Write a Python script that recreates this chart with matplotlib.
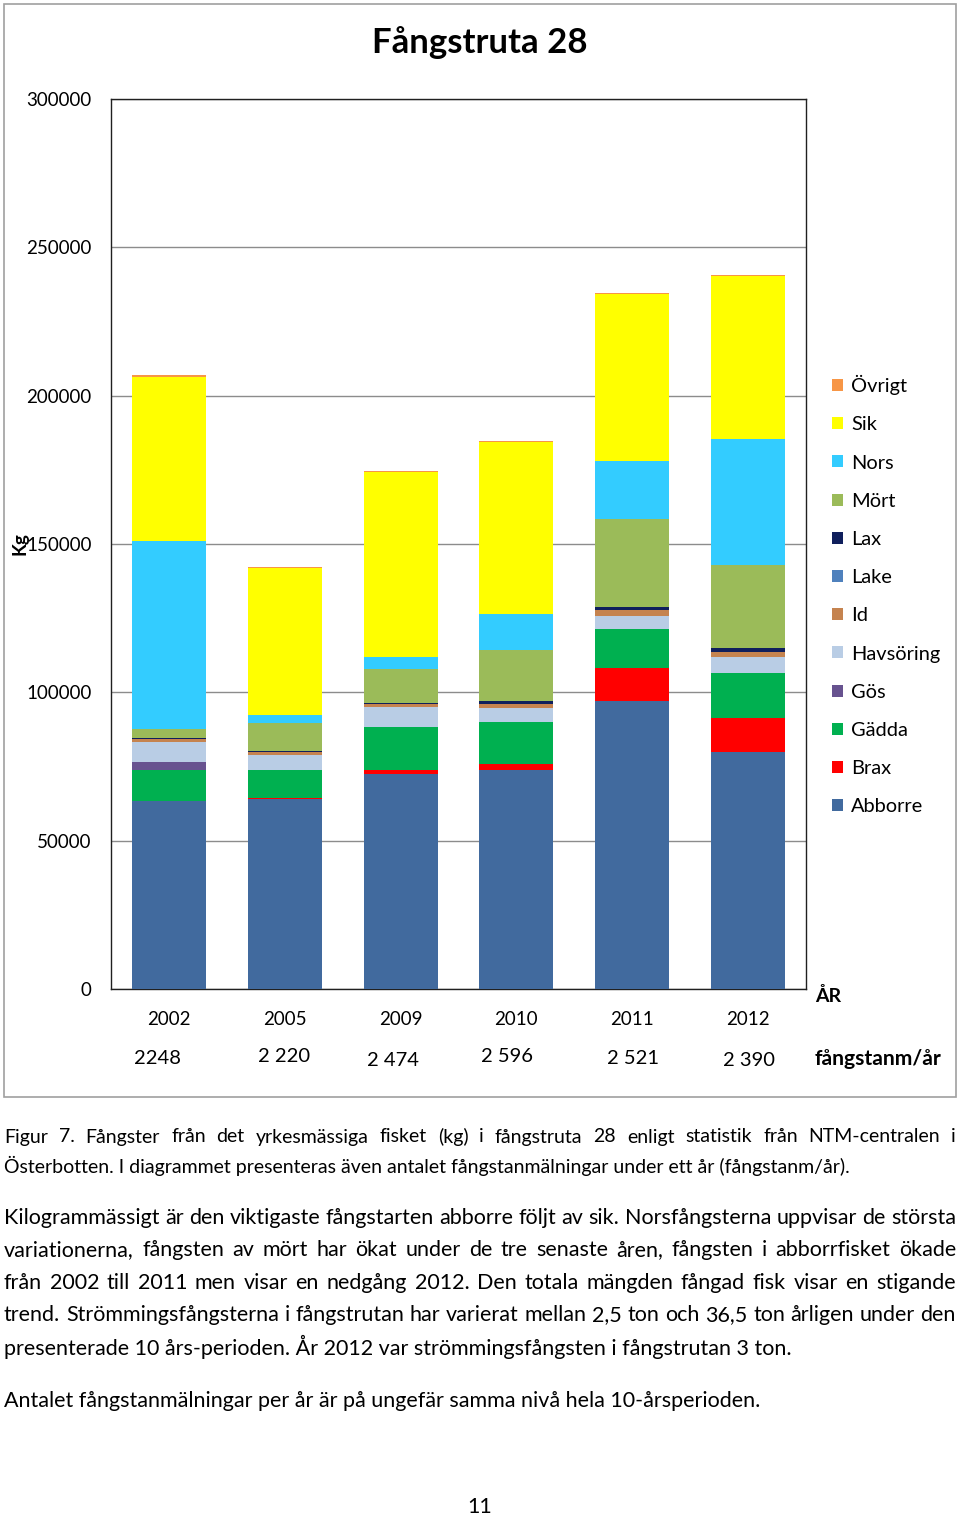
import numpy as np
import matplotlib
matplotlib.use('Agg')
import matplotlib.pyplot as plt
from matplotlib.patches import Rectangle, Patch
from matplotlib.transforms import blended_transform_factory

plt.rcParams['font.family'] = ['Lato', 'DejaVu Sans']

# data (kg)
years = ['2002', '2005', '2009', '2010', '2011', '2012']
reports = ['2248', '2 220', '2 474', '2 596', '2 521', '2 390']

abborre = [63400, 64000, 72500, 73800, 97100, 80000]
brax = [0, 400, 1400, 2000, 11000, 11200]
gadda = [10400, 9400, 14400, 14100, 13400, 15200]
gos = [2700, 0, 0, 0, 0, 0]
havsoring = [6700, 5000, 6700, 4700, 4300, 5500]
id_ = [1000, 1000, 1100, 1500, 1800, 1600]
lake = [0, 0, 0, 0, 0, 0]
lax = [500, 500, 400, 1000, 1000, 1300]
mort = [2800, 9400, 11300, 17200, 29900, 28100]
nors = [63600, 2500, 4000, 12000, 19600, 42600]
sik = [55300, 49600, 62400, 58000, 56300, 54800]
ovrigt = [400, 300, 300, 300, 300, 300]

series = [
    ('Abborre', abborre, '#416a9e'),
    ('Brax', brax, '#ff0000'),
    ('Gädda', gadda, '#00b050'),
    ('Gös', gos, '#67528f'),
    ('Havsöring', havsoring, '#b9cde5'),
    ('Id', id_, '#c5834f'),
    ('Lake', lake, '#4f81bd'),
    ('Lax', lax, '#0f1f5c'),
    ('Mört', mort, '#9bbb59'),
    ('Nors', nors, '#33ccff'),
    ('Sik', sik, '#ffff00'),
    ('Övrigt', ovrigt, '#f79646'),
]

W, H = 960, 1517
fig = plt.figure(figsize=(W / 100, H / 100), dpi=100)


def fx(px):
    return px / W


def fy(py):
    return 1 - py / H


# outer border of the chart object
fig.patches.append(Rectangle((fx(4), fy(1097)), fx(952), 1093 / H, transform=fig.transFigure,
                             fill=False, edgecolor='#a0a0a0', linewidth=1.2))

ax = fig.add_axes([fx(111), fy(989), fx(695), 890 / H])
x = np.arange(len(years))
bottom = np.zeros(len(years))
handles = []
for name, vals, col in series:
    vals = np.array(vals, dtype=float)
    ax.bar(x, vals, 0.64, bottom=bottom, color=col, zorder=3)
    bottom += vals
    handles.append(Patch(facecolor=col, label=name))

ax.set_xlim(-0.5, len(years) - 0.5)
ax.set_ylim(0, 300000)
ax.set_yticks(np.arange(0, 300001, 50000))
ax.set_yticklabels([str(v) for v in range(0, 300001, 50000)], fontsize=13.5)
ax.yaxis.grid(True, color='#8c8c8c', linewidth=1, zorder=0)
ax.set_axisbelow(True)
ax.tick_params(length=0)
ax.tick_params(axis='y', pad=14)
ax.set_xticks(x)
ax.set_xticklabels(years, fontsize=13.5)
ax.tick_params(axis='x', pad=16)
for s in ax.spines.values():
    s.set_color('#202020')
    s.set_linewidth(1.0)

# second row: number of catch reports per year (slightly offset like the original)
tr = blended_transform_factory(ax.transData, fig.transFigure)
rep_dx = [-11, -1, -8, -9, 1, 1]
rep_y = [1058, 1057, 1060, 1057, 1058, 1060]
for i, r in enumerate(reports):
    ax.text(i + rep_dx[i] / 115.8, fy(rep_y[i]), r, transform=tr, ha='center', va='center', fontsize=14.5)

fig.text(fx(815), fy(996), 'ÅR', fontsize=14, fontweight='bold', va='center', ha='left')
fig.text(fx(815), fy(1059), 'fångstanm/år', fontsize=15.2, fontweight='bold', va='center', ha='left')
fig.text(fx(20), fy(544), 'Kg', fontsize=13.5, fontweight='bold', rotation=90, va='center', ha='center')
fig.text(fx(480), fy(43), 'Fångstruta 28', fontsize=25, fontweight='bold', ha='center', va='center')

fig.legend(handles=handles[::-1], loc='upper left', bbox_to_anchor=(fx(824), fy(367)),
           frameon=False, fontsize=14.4, handlelength=0.55, handleheight=0.55,
           handletextpad=0.4, labelspacing=1.06, borderaxespad=0)

# caption text below the chart
renderer = fig.canvas.get_renderer()


def put_line(text, y, size, justify=False, x0=4, x1=956):
    if not justify:
        fig.text(fx(x0), fy(y), text, fontsize=size, ha='left', va='center')
        return
    words = text.split(' ')
    objs = [fig.text(0, fy(y), w, fontsize=size, ha='left', va='center') for w in words]
    widths = [o.get_window_extent(renderer).width for o in objs]
    gap = (x1 - x0 - sum(widths)) / (len(words) - 1)
    pos = x0
    for o, w in zip(objs, widths):
        o.set_x(fx(pos))
        pos += w + gap


cap1 = [
    ('Figur 7. Fångster från det yrkesmässiga fisket (kg) i fångstruta 28 enligt statistik från NTM-centralen i', True),
    ('Österbotten. I diagrammet presenteras även antalet fångstanmälningar under ett år (fångstanm/år).', False),
]
cap2 = [
    ('Kilogrammässigt är den viktigaste fångstarten abborre följt av sik. Norsfångsterna uppvisar de största', True),
    ('variationerna, fångsten av mört har ökat under de tre senaste åren, fångsten i abborrfisket ökade', True),
    ('från 2002 till 2011 men visar en nedgång 2012. Den totala mängden fångad fisk visar en stigande', True),
    ('trend. Strömmingsfångsterna i fångstrutan har varierat mellan 2,5 ton och 36,5 ton årligen under den', True),
    ('presenterade 10 års-perioden. År 2012 var strömmingsfångsten i fångstrutan 3 ton.', False),
]
cap3 = 'Antalet fångstanmälningar per år är på ungefär samma nivå hela 10-årsperioden.'

for (t, j), y in zip(cap1, [1137, 1166]):
    put_line(t, y, 14.0, j)
for (t, j), y in zip(cap2, [1218, 1250, 1283, 1315, 1347]):
    put_line(t, y, 15.5, j)
put_line(cap3, 1401, 15.5)
fig.text(fx(480), fy(1507), '11', fontsize=15.5, ha='center', va='center')

fig.savefig('out.png', dpi=100)
